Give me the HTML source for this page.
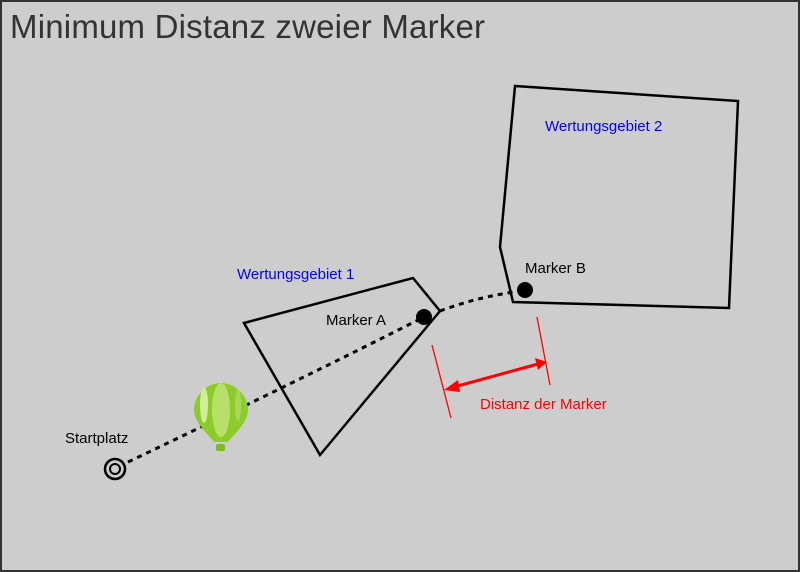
<!DOCTYPE html>
<html><head><style>
body{margin:0}
.c{position:relative;width:800px;height:572px;background:#cdcdcd;overflow:hidden;font-family:"Liberation Sans",sans-serif}
</style></head><body><div class="c">
<svg width="800" height="572" style="position:absolute;left:0;top:0">
<rect x="1" y="1" width="798" height="570" fill="none" stroke="#333" stroke-width="2"/>
<text x="10" y="38" font-size="33" fill="#333" font-family="Liberation Sans" textLength="475">Minimum Distanz zweier Marker</text>
<polygon points="244,323 413,278 440,311 320,455" fill="none" stroke="#000" stroke-width="2.5"/>
<polygon points="515,86 738,101 729,308 513,302 500,247" fill="none" stroke="#000" stroke-width="2.5"/>
<path d="M128,462 Q300,380 424,317 M440,311 Q480,296 522,291" fill="none" stroke="#000" stroke-width="3" stroke-dasharray="5,5"/>
<circle cx="115" cy="469" r="10" fill="none" stroke="#000" stroke-width="2.5"/>
<circle cx="115" cy="469" r="5" fill="none" stroke="#000" stroke-width="2"/>
<circle cx="424" cy="317" r="8" fill="#000"/>
<circle cx="525" cy="290" r="8" fill="#000"/>
<path d="M221,383 C236,383 248,396 248,410 C248,422 236,432 228,442 L214,442 C206,432 194,422 194,410 C194,396 206,383 221,383 Z" fill="#8ccc2a"/>
<ellipse cx="221" cy="410" rx="9" ry="27" fill="#b6e06a"/>
<ellipse cx="204" cy="405" rx="4" ry="18" fill="#d0ee9a"/>
<ellipse cx="238" cy="405" rx="3" ry="16" fill="#a8d858"/>
<rect x="216" y="444" width="9" height="7" rx="2" fill="#7cbc20"/>
<g stroke="#f00" stroke-width="1.3">
<line x1="432" y1="345" x2="451" y2="418"/>
<line x1="537" y1="317" x2="550" y2="385"/>
</g>
<line x1="454" y1="387" x2="538" y2="364" stroke="#f00" stroke-width="3"/>
<polygon points="444,390 458,380 460,392" fill="#f00"/>
<polygon points="547,362 535,358 538,370" fill="#f00"/>
<g font-size="15" font-family="Liberation Sans">
<text x="237" y="279" fill="#00f">Wertungsgebiet 1</text>
<text x="545" y="131" fill="#00f">Wertungsgebiet 2</text>
<text x="326" y="325" fill="#000">Marker A</text>
<text x="525" y="273" fill="#000">Marker B</text>
<text x="65" y="443" fill="#000">Startplatz</text>
<text x="480" y="409" fill="#f00">Distanz der Marker</text>
</g>
</svg>
</div></body></html>
